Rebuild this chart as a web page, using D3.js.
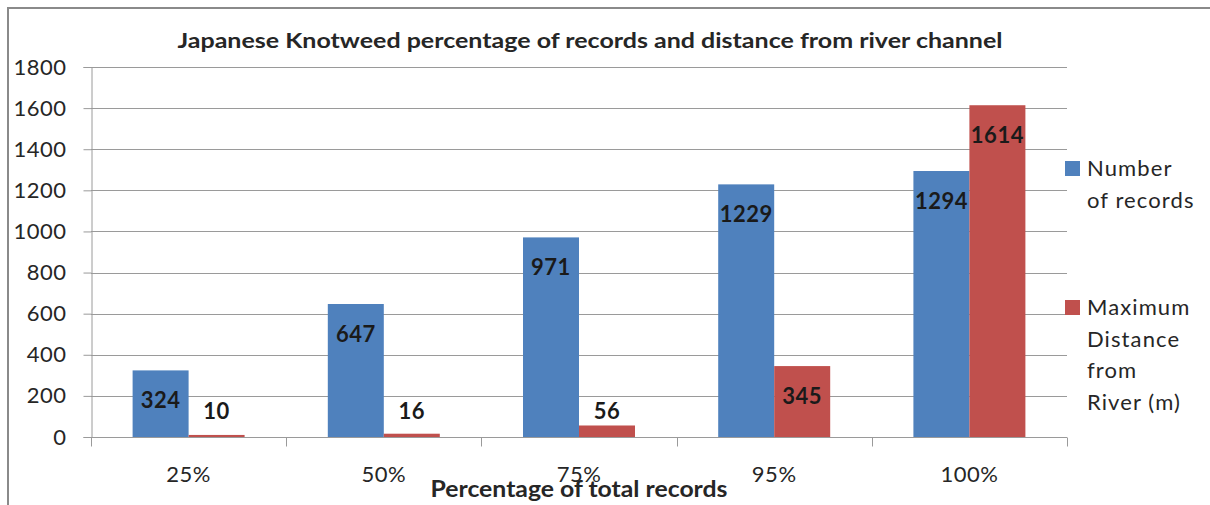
<!DOCTYPE html>
<html>
<head>
<meta charset="utf-8">
<script src="https://cdn.jsdelivr.net/npm/d3@7"></script>
<style>
  html, body { margin: 0; padding: 0; background: #fff; }
  svg { display: block; font-family: Lato, "Open Sans", sans-serif; }
</style>
</head>
<body>
<svg id="chart" width="1210" height="505"></svg>
<script>
// Percentage bands of the total records
const categories = ["25%", "50%", "75%", "95%", "100%"];
// Number of records within each band
const numberOfRecords = [324, 647, 971, 1229, 1294];
// Maximum distance from the river channel (m)
const maxDistance = [10, 16, 56, 345, 1614];
const seriesNames = ["Number of records", "Maximum Distance from River (m)"];
const legendLines = [["Number", "of records"], ["Maximum", "Distance", "from", "River (m)"]];
const yTicks = [0, 200, 400, 600, 800, 1000, 1200, 1400, 1600, 1800];

const colors = ["#4F81BD", "#C0504D"];
const textColor = "#262626";

const svg = d3.select("#chart");

// outer chart frame
svg.append("rect")
  .attr("x", 8).attr("y", 8)
  .attr("width", 1250).attr("height", 540)
  .attr("fill", "none").attr("stroke", "#8a8a8a").attr("stroke-width", 2);

const plot = { left: 91, right: 1067, top: 67, bottom: 437 };

const x = d3.scaleBand().domain(categories).range([plot.left, plot.right]).paddingInner(0).paddingOuter(0);
const x1 = d3.scaleBand().domain([0, 1]).range([0, x.bandwidth()]).paddingOuter(0.743).paddingInner(0);
const y = d3.scaleLinear().domain([0, 1800]).range([plot.bottom, plot.top]);

// horizontal gridlines
svg.append("g").selectAll("line").data(yTicks).join("line")
  .attr("x1", plot.left).attr("x2", plot.right)
  .attr("y1", d => Math.round(y(d)) + 0.5).attr("y2", d => Math.round(y(d)) + 0.5)
  .attr("stroke", "#9a9a9a").attr("stroke-width", 1);

// y axis
const yAxis = svg.append("g")
  .attr("transform", `translate(${plot.left + 0.5},0)`)
  .call(d3.axisLeft(y).tickValues(yTicks).tickSize(8).tickPadding(17).tickFormat(d3.format("d")));
yAxis.select(".domain").attr("stroke", "#9a9a9a");
yAxis.selectAll(".tick line").attr("stroke", "#9a9a9a");
yAxis.selectAll(".tick text").attr("font-size", 22).attr("fill", textColor)
  .attr("font-family", "Lato, sans-serif").attr("letter-spacing", 0.5);

// x axis: ticks at category boundaries
const xAxisG = svg.append("g").attr("transform", `translate(0,${plot.bottom + 0.5})`);
xAxisG.append("line").attr("x1", plot.left).attr("x2", plot.right).attr("stroke", "#9a9a9a");
const boundaries = categories.map(c => x(c)).concat([plot.right]);
xAxisG.selectAll("line.tk").data(boundaries).join("line").attr("class", "tk")
  .attr("x1", d => Math.round(d) + 0.5).attr("x2", d => Math.round(d) + 0.5)
  .attr("y1", 0).attr("y2", 9).attr("stroke", "#9a9a9a");
xAxisG.selectAll("text").data(categories).join("text")
  .attr("x", d => x(d) + x.bandwidth() / 2).attr("y", 44)
  .attr("text-anchor", "middle").attr("font-size", 22).attr("fill", textColor)
  .attr("letter-spacing", 0.5)
  .text(d => d);

// bars
const seriesData = [numberOfRecords, maxDistance];
const groups = svg.append("g").selectAll("g").data(categories).join("g")
  .attr("transform", d => `translate(${x(d)},0)`);

seriesData.forEach((vals, s) => {
  groups.append("rect")
    .attr("x", x1(s)).attr("width", x1.bandwidth())
    .attr("y", (d, i) => y(vals[i]))
    .attr("height", (d, i) => y(0) - y(vals[i]))
    .attr("fill", colors[s]);
});

// value labels: inside the bar end, kept clear of the baseline for short bars
seriesData.forEach((vals, s) => {
  groups.append("text")
    .attr("x", x1(s) + x1.bandwidth() / 2)
    .attr("y", (d, i) => Math.min(y(vals[i]) + 30, 411) + 8)
    .attr("text-anchor", "middle")
    .attr("font-size", 22).attr("font-weight", "bold").attr("fill", "#1a1a1a")
    .attr("letter-spacing", 0.5)
    .text((d, i) => vals[i]);
});

// title
svg.append("text")
  .attr("x", 590).attr("y", 48).attr("text-anchor", "middle")
  .attr("font-size", 20).attr("font-weight", "bold").attr("fill", textColor)
  .attr("textLength", 825).attr("lengthAdjust", "spacingAndGlyphs")
  .text("Japanese Knotweed percentage of records and distance from river channel");

// x axis title
svg.append("text")
  .attr("x", 579).attr("y", 497).attr("text-anchor", "middle")
  .attr("font-size", 22).attr("font-weight", "bold").attr("fill", textColor)
  .attr("textLength", 297).attr("lengthAdjust", "spacingAndGlyphs")
  .text("Percentage of total records");

// legend
const legendTop = [161, 300];
seriesNames.forEach((name, s) => {
  const g = svg.append("g");
  g.append("rect").attr("x", 1065).attr("y", legendTop[s]).attr("width", 15).attr("height", 15)
    .attr("fill", colors[s]);
  g.append("text").attr("x", 1087).attr("y", legendTop[s] + 15)
    .attr("font-size", 22).attr("fill", textColor).attr("letter-spacing", 1.1)
    .selectAll("tspan").data(legendLines[s]).join("tspan")
    .attr("x", 1087).attr("dy", (d, i) => i === 0 ? 0 : 31.5)
    .text(d => d);
});
</script>
</body>
</html>
